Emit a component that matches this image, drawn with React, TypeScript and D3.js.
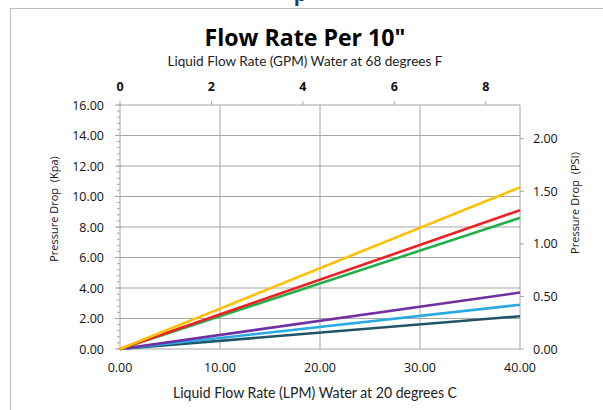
import React, { useEffect, useRef } from 'react';
import * as d3 from 'd3';

// flow (LPM) sample points, straight lines from the origin
const flowLpm = [0, 40];

const seriesNames = ['teal', 'blue', 'purple', 'green', 'red', 'yellow'];
const seriesColors = ['#1F5566', '#29A9E1', '#7030A0', '#22AF4B', '#EE2024', '#FFC000'];
const seriesValues = [
  [0, 2.15],
  [0, 2.9],
  [0, 3.7],
  [0, 8.6],
  [0, 9.1],
  [0, 10.6],
];

const kpaTicks = [0, 2, 4, 6, 8, 10, 12, 14, 16];
const lpmTicks = [0, 10, 20, 30, 40];
const gpmTicks = [0, 2, 4, 6, 8];
const psiTicks = [0, 0.5, 1, 1.5, 2];

const W = 603;
const H = 410;

export default function App() {
  const svgRef = useRef<SVGSVGElement>(null);

  useEffect(() => {
    if (!svgRef.current) return;
    const svg = d3.select(svgRef.current);
    svg.selectAll('*').remove();

    const left = 120, right = 520, top = 105, bottom = 349;
    const font = "'Open Sans', 'Noto Sans', sans-serif";
    const grid = '#A6A6A6';

    const x = d3.scaleLinear().domain([0, 40]).range([left, right]);
    const y = d3.scaleLinear().domain([0, 16]).range([bottom, top]);
    const xTop = d3.scaleLinear().domain([0, 8.75]).range([left, right]);
    const yRight = d3.scaleLinear().domain([0, 16 * 0.145038]).range([bottom, top]);

    // chart frame
    svg.append('rect')
      .attr('x', 10.5).attr('y', 8.5)
      .attr('width', 620).attr('height', 420)
      .attr('fill', 'white').attr('stroke', '#BFBFBF');

    // cut-off heading above the chart
    svg.append('text')
      .attr('x', 300).attr('y', 1)
      .attr('text-anchor', 'middle')
      .attr('font-family', font).attr('font-size', 20).attr('font-weight', 700)
      .attr('fill', '#1F3A6E')
      .text('p');

    // title
    svg.append('text')
      .attr('x', 305).attr('y', 46)
      .attr('text-anchor', 'middle')
      .attr('font-family', font).attr('font-size', 24).attr('font-weight', 700)
      .attr('textLength', 201).attr('lengthAdjust', 'spacingAndGlyphs')
      .attr('fill', '#000')
      .text('Flow Rate Per 10"');

    svg.append('text')
      .attr('x', 305).attr('y', 66)
      .attr('text-anchor', 'middle')
      .attr('font-family', "Lato, 'Open Sans', sans-serif").attr('font-size', 14)
      .attr('textLength', 275).attr('lengthAdjust', 'spacingAndGlyphs')
      .attr('fill', '#222')
      .text('Liquid Flow Rate (GPM) Water at 68 degrees F');

    // horizontal gridlines
    svg.append('g').selectAll('line')
      .data(kpaTicks)
      .join('line')
      .attr('x1', left).attr('x2', right)
      .attr('y1', d => y(d)).attr('y2', d => y(d))
      .attr('stroke', grid).attr('stroke-width', 1);

    // vertical gridlines
    svg.append('g').selectAll('line')
      .data(lpmTicks)
      .join('line')
      .attr('x1', d => x(d)).attr('x2', d => x(d))
      .attr('y1', top).attr('y2', bottom)
      .attr('stroke', grid).attr('stroke-width', 1);

    // left minor + major ticks
    const minor = d3.range(0, 16.01, 0.4);
    svg.append('g').selectAll('line')
      .data(minor)
      .join('line')
      .attr('x1', left - 3).attr('x2', left)
      .attr('y1', d => y(d)).attr('y2', d => y(d))
      .attr('stroke', grid);
    svg.append('g').selectAll('line')
      .data(kpaTicks)
      .join('line')
      .attr('x1', left - 5).attr('x2', left + 2)
      .attr('y1', d => y(d)).attr('y2', d => y(d))
      .attr('stroke', grid);

    // top ticks
    svg.append('g').selectAll('line')
      .data(gpmTicks)
      .join('line')
      .attr('x1', d => xTop(d)).attr('x2', d => xTop(d))
      .attr('y1', top - 4).attr('y2', top)
      .attr('stroke', grid);

    // right ticks
    svg.append('g').selectAll('line')
      .data(psiTicks)
      .join('line')
      .attr('x1', right).attr('x2', right + 4)
      .attr('y1', d => yRight(d)).attr('y2', d => yRight(d))
      .attr('stroke', grid);

    // series
    const line = d3.line<number>()
      .x((_, i) => x(flowLpm[i]))
      .y(d => y(d));
    svg.append('g').selectAll('path')
      .data(seriesValues)
      .join('path')
      .attr('class', (_, i) => seriesNames[i])
      .attr('d', d => line(d))
      .attr('fill', 'none')
      .attr('stroke', (_, i) => seriesColors[i])
      .attr('stroke-width', 2.6);

    const label = (g: d3.Selection<SVGGElement, unknown, null, undefined>) =>
      g.attr('font-family', font).attr('font-size', 12.5).attr('fill', '#111');

    // left labels
    svg.append('g').call(label).selectAll('text')
      .data(kpaTicks)
      .join('text')
      .attr('x', 104).attr('y', d => y(d) + 4.5)
      .attr('text-anchor', 'end')
      .text(d => d.toFixed(2));

    // bottom labels
    svg.append('g').call(label).selectAll('text')
      .data(lpmTicks)
      .join('text')
      .attr('x', d => x(d)).attr('y', 372)
      .attr('text-anchor', 'middle')
      .text(d => d.toFixed(2));

    // top labels
    svg.append('g').call(label).attr('font-weight', 700).selectAll('text')
      .data(gpmTicks)
      .join('text')
      .attr('x', d => xTop(d)).attr('y', 91)
      .attr('text-anchor', 'middle')
      .text(d => String(d));

    // right labels
    svg.append('g').call(label).selectAll('text')
      .data(psiTicks)
      .join('text')
      .attr('x', 533).attr('y', d => yRight(d) + 4.5)
      .attr('text-anchor', 'start')
      .text(d => d.toFixed(2));

    // axis titles
    svg.append('text')
      .attr('x', 315).attr('y', 398)
      .attr('text-anchor', 'middle')
      .attr('font-family', "Lato, 'Open Sans', sans-serif").attr('font-size', 14.5)
      .attr('textLength', 284).attr('lengthAdjust', 'spacingAndGlyphs')
      .attr('fill', '#222')
      .text('Liquid Flow Rate (LPM) Water at 20 degrees C');

    svg.append('text')
      .attr('transform', 'translate(58,209) rotate(-90)')
      .attr('text-anchor', 'middle')
      .attr('font-family', font).attr('font-size', 11)
      .attr('fill', '#111')
      .style('white-space', 'pre')
      .text('Pressure Drop  (Kpa)');

    svg.append('text')
      .attr('transform', 'translate(579,203) rotate(-90)')
      .attr('text-anchor', 'middle')
      .attr('font-family', font).attr('font-size', 11)
      .attr('fill', '#111')
      .style('white-space', 'pre')
      .text('Pressure Drop  (PSI)');
  }, []);

  return (
    <svg
      ref={svgRef}
      width={W}
      height={H}
      style={{ position: 'absolute', left: 0, top: 0, background: 'white' }}
    />
  );
}
